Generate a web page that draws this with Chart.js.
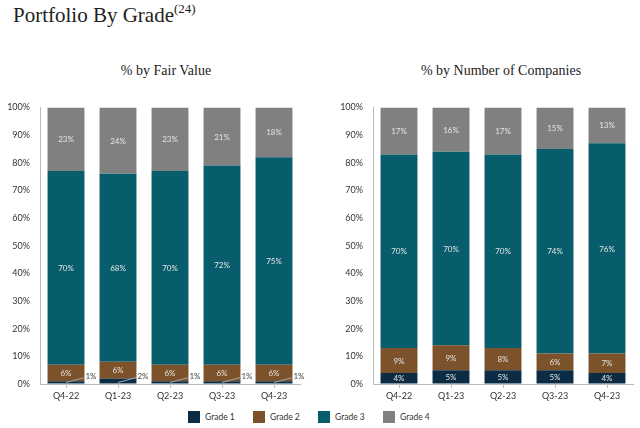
<!DOCTYPE html>
<html><head><meta charset="utf-8">
<script src="https://cdn.jsdelivr.net/npm/chart.js@4"></script>
<style>
body{margin:0;width:640px;height:428px;background:#fff;position:relative;overflow:hidden;font-family:Lato,sans-serif}
#title{position:absolute;left:13px;top:3px;font-family:"Liberation Serif",serif;font-size:21px;color:#222;white-space:nowrap}
#title sup{font-size:13px;position:relative;top:-2px;vertical-align:top}
.sub{position:absolute;top:63px;font-family:"Liberation Serif",serif;font-size:14px;color:#222;transform:translateX(-50%);white-space:nowrap}
.wrap{position:absolute;top:92px;width:310px;height:314px}
#legend{position:absolute;top:411px;left:188px;display:flex}
#legend .it{width:65px;display:flex;align-items:center;font-size:8.5px;color:#333;font-family:Lato,sans-serif}
#legend .sw{width:12px;height:12px;margin-right:5px}
</style></head>
<body>
<div id="title">Portfolio By Grade<sup>(24)</sup></div>
<div class="sub" style="left:166px">% by Fair Value</div>
<div class="sub" style="left:501px">% by Number of Companies</div>
<div class="wrap" style="left:0"><canvas id="c1" width="310" height="314"></canvas></div>
<div class="wrap" style="left:333px"><canvas id="c2" width="310" height="314"></canvas></div>
<div id="legend"></div>
<script>
const categories = ['Q4-22','Q1-23','Q2-23','Q3-23','Q4-23'];
const gradeNames = ['Grade 1','Grade 2','Grade 3','Grade 4'];
const gradeColors = ['#0c2c45','#7b5229','#075d6b','#808080'];

// % by Fair Value
const fvGrade1 = [1,2,1,1,1];
const fvGrade2 = [6,6,6,6,6];
const fvGrade3 = [70,68,70,72,75];
const fvGrade4 = [23,24,23,21,18];

// % by Number of Companies
const ncGrade1 = [4,5,5,5,4];
const ncGrade2 = [9,9,8,6,7];
const ncGrade3 = [70,70,70,74,76];
const ncGrade4 = [17,16,17,15,13];

const labelPlugin = {
  id:'barLabels',
  afterDatasetsDraw(chart){
    const ctx = chart.ctx;
    chart.data.datasets.forEach((ds,di)=>{
      const meta = chart.getDatasetMeta(di);
      meta.data.forEach((bar,i)=>{
        const v = ds.data[i];
        const p = bar.getProps(['x','y','base','width'],true);
        const cy = (p.y+p.base)/2;
        ctx.save();
        ctx.font = '8px Lato';
        ctx.textBaseline = 'middle';
        if (v < 3) {
          const x1 = p.x + p.width/2;
          ctx.strokeStyle = '#a8a8a8'; ctx.lineWidth = 1;
          ctx.beginPath(); ctx.moveTo(p.x, p.base-1); ctx.lineTo(x1, p.base-6); ctx.stroke();
          ctx.fillStyle = '#444'; ctx.textAlign = 'left';
          ctx.fillText(v+'%', x1+1, p.base-7);
        } else {
          ctx.fillStyle = '#e4e4e4'; ctx.textAlign = 'center';
          ctx.fillText(v+'%', p.x, cy+0.5);
        }
        ctx.restore();
      });
    });
  }
};

function makeChart(id, series){
  return new Chart(document.getElementById(id), {
    type:'bar',
    data:{
      labels:categories,
      datasets: series.map((d,i)=>({label:gradeNames[i], data:d, backgroundColor:gradeColors[i], borderWidth:0, barPercentage:0.71, categoryPercentage:1}))
    },
    options:{
      responsive:false, animation:false,
      layout:{padding:{top:5,right:10,left:0,bottom:0}},
      plugins:{legend:{display:false}, tooltip:{enabled:false}},
      scales:{
        x:{stacked:true,
           grid:{display:true, drawOnChartArea:false, offset:false, tickLength:4, color:'#bbb'},
           border:{color:'#bbb'},
           ticks:{font:{family:'Lato',size:9}, color:'#333', padding:3, maxRotation:0},
           afterFit:s=>{s.height=22;}},
        y:{stacked:true, min:0, max:100,
           grid:{display:true, drawOnChartArea:false, drawTicks:false, color:'#bbb'},
           border:{color:'#bbb'},
           ticks:{stepSize:10, callback:v=>v+'%', font:{family:'Lato',size:9}, color:'#333', padding:10},
           afterFit:s=>{s.width=40;}}
      }
    },
    plugins:[labelPlugin]
  });
}
makeChart('c1',[fvGrade1,fvGrade2,fvGrade3,fvGrade4]);
makeChart('c2',[ncGrade1,ncGrade2,ncGrade3,ncGrade4]);

const lg = document.getElementById('legend');
gradeNames.forEach((n,i)=>{
  const it = document.createElement('div'); it.className='it';
  const sw = document.createElement('span'); sw.className='sw'; sw.style.background=gradeColors[i];
  it.appendChild(sw); it.appendChild(document.createTextNode(n));
  lg.appendChild(it);
});
</script>
</body></html>
